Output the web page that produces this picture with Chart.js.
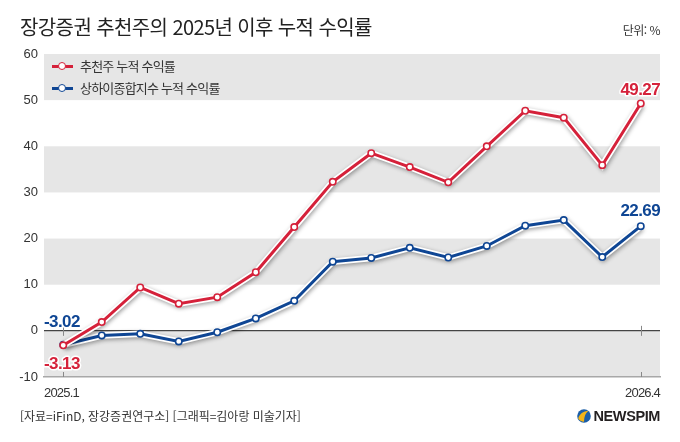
<!DOCTYPE html>
<html lang="ko">
<head>
<meta charset="utf-8">
<script src="https://cdn.jsdelivr.net/npm/chart.js@4.4.1/dist/chart.umd.min.js"></script>
<style>
  html, body { margin: 0; padding: 0; background: #fff; }
  #wrap { position: relative; width: 680px; height: 442px; overflow: hidden; font-family: "Noto Sans CJK KR", "Noto Sans", sans-serif; }
  #chartBox { position: absolute; left: 0; top: 0; width: 680px; height: 442px; }
  .title { position: absolute; left: 20px; top: 17px; font-size: 20px; line-height: 20px; letter-spacing: -0.6px; color: #222; }
  .unit { position: absolute; right: 20px; top: 24px; font-size: 12px; line-height: 12px; letter-spacing: -0.5px; color: #333; }
  .legend { position: absolute; left: 52px; top: 55px; font-size: 13px; letter-spacing: -0.8px; color: #333; }
  .legend div { height: 22px; line-height: 18px; display: flex; align-items: center; }
  .legend .mk { position: relative; width: 21px; height: 3px; margin-right: 7px; }
  .legend .mk i { position: absolute; left: 6px; top: -3px; width: 6px; height: 6px; border-radius: 50%; background: #fff; border: 1.5px solid; box-sizing: content-box; }
  .source { position: absolute; left: 20px; top: 409px; font-size: 12px; line-height: 14px; letter-spacing: -0.02px; color: #333; }
  .logo { position: absolute; right: 20px; top: 408px; display: flex; align-items: center; }
  .logo span { font-family: "Liberation Sans", Arial, sans-serif; font-weight: bold; font-size: 14.5px; letter-spacing: -0.4px; color: #231f20; margin-left: 3px; }
</style>
</head>
<body>
<div id="wrap">
  <div id="chartBox"><canvas id="returns"></canvas></div>
  <div class="title">장강증권 추천주의 2025년 이후 누적 수익률</div>
  <div class="unit">단위: %</div>
  <div class="legend">
    <div><span class="mk" style="background:#d5213a"><i style="border-color:#d5213a"></i></span>추천주 누적 수익률</div>
    <div><span class="mk" style="background:#0f4694"><i style="border-color:#0f4694"></i></span>상하이종합지수 누적 수익률</div>
  </div>
  <div class="source">[자료=iFinD, 장강증권연구소] [그래픽=김아랑 미술기자]</div>
  <div class="logo">
    <svg width="14" height="14" viewBox="0 0 14 14">
      <circle cx="7" cy="7" r="6.8" fill="#1b5ea8"/>
      <path d="M1.2 9.5 C2.5 5 6 2.2 11.5 1.8 C8.5 4 7.2 7.5 7 12.8 C4.5 12.5 2.2 11.3 1.2 9.5 Z" fill="#f2b418"/>
    </svg>
    <span>NEWSPIM</span>
  </div>
</div>
<script>
const months = ["2025.1", "2025.2", "2025.3", "2025.4", "2025.5", "2025.6", "2025.7", "2025.8",
    "2025.9", "2025.10", "2025.11", "2025.12", "2026.1", "2026.2", "2026.3", "2026.4"];
const picksReturn = [-3.13, 1.9, 9.4, 5.9, 7.3, 12.7, 22.5, 32.3, 38.5, 35.5, 32.2, 40.0, 47.7, 46.2, 35.9, 49.27];
const shanghaiReturn = [-3.02, -1.0, -0.65, -2.3, -0.3, 2.7, 6.5, 15.0, 15.8, 18.0, 15.9, 18.4, 22.8, 24.0, 16.0, 22.69];
const axisLabels = ["2025.1", "2026.4"];
const yMin = -10, yMax = 60, yStep = 10;

const RED = "#d5213a";
const BLUE = "#0f4694";

// grey bands behind the plot, every other 10 points
const bandsPlugin = {
    id: "bands",
    beforeDraw(chart) {
        const { ctx, chartArea, scales } = chart;
        const y = scales.y;
        ctx.save();
        ctx.fillStyle = "#e6e6e6";
        for (let v = yMin; v < yMax; v += yStep) {
            if (((v - yMin) / yStep) % 2 === 0) {
                const top = y.getPixelForValue(v + yStep);
                const bottom = y.getPixelForValue(v);
                ctx.fillRect(chartArea.left, top, chartArea.right - chartArea.left, bottom - top);
            }
        }
        ctx.restore();
    },
};

// shadow under the white halo lines, small ticks, labels
const decoPlugin = {
    id: "deco",
    beforeDatasetsDraw(chart) {
        const { ctx, chartArea, scales } = chart;
        const x = scales.x, y = scales.y;
        const zero = y.getPixelForValue(0);
        ctx.save();
        ctx.strokeStyle = "#888";
        ctx.lineWidth = 1;
        [0, months.length - 1].forEach((i) => {
            const px = Math.round(x.getPixelForValue(i)) + 0.5;
            ctx.beginPath();
            ctx.moveTo(px, zero - 5);
            ctx.lineTo(px, zero + 5);
            ctx.moveTo(px, chartArea.bottom - 5);
            ctx.lineTo(px, chartArea.bottom);
            ctx.stroke();
        });
        ctx.restore();
    },
    beforeDatasetDraw(chart, args) {
        if (args.meta._dataset.halo) {
            const ctx = chart.ctx;
            ctx.save();
            ctx.shadowColor = "rgba(0,0,0,0.38)";
            ctx.shadowBlur = 4;
            ctx.shadowOffsetX = 1;
            ctx.shadowOffsetY = 1.5;
        }
    },
    afterDatasetDraw(chart, args) {
        if (args.meta._dataset.halo) chart.ctx.restore();
    },
    afterDatasetsDraw(chart) {
        const { ctx, chartArea } = chart;
        const red = chart.getDatasetMeta(0).data;
        const blue = chart.getDatasetMeta(2).data;
        const last = months.length - 1;
        ctx.save();
        ctx.font = "bold 17px 'Liberation Sans', Arial, sans-serif";
        ctx.letterSpacing = "-0.6px";
        ctx.lineJoin = "round";
        const put = (txt, color, px, py, align, base) => {
            ctx.textAlign = align;
            ctx.textBaseline = base;
            ctx.strokeStyle = "#fff";
            ctx.lineWidth = 3;
            ctx.strokeText(txt, px, py);
            ctx.fillStyle = color;
            ctx.fillText(txt, px, py);
        };
        put(picksReturn[last].toFixed(2), RED, chartArea.right, red[last].y - 9, "right", "alphabetic");
        put(shanghaiReturn[last].toFixed(2), BLUE, chartArea.right, blue[last].y - 10, "right", "alphabetic");
        put(shanghaiReturn[0].toFixed(2), BLUE, chartArea.left, blue[0].y - 18, "left", "alphabetic");
        put(picksReturn[0].toFixed(2), RED, chartArea.left, red[0].y + 24, "left", "alphabetic");

        // first / last month labels under the axis
        ctx.font = "13px 'Liberation Sans', Arial, sans-serif";
        ctx.letterSpacing = "-0.8px";
        ctx.fillStyle = "#333";
        ctx.textBaseline = "alphabetic";
        ctx.textAlign = "left";
        ctx.fillText(axisLabels[0], chartArea.left, chartArea.bottom + 20);
        ctx.textAlign = "right";
        ctx.fillText(axisLabels[1], chartArea.right, chartArea.bottom + 20);
        ctx.restore();
    },
};

const lineStyle = (color) => ({
    borderColor: color,
    borderWidth: 3,
    pointRadius: 3.2,
    pointHoverRadius: 3.2,
    pointBackgroundColor: "#fff",
    pointBorderColor: color,
    pointBorderWidth: 1.6,
    tension: 0,
    fill: false,
});
const haloStyle = {
    halo: true,
    borderColor: "#fff",
    borderWidth: 6.5,
    pointRadius: 0,
    tension: 0,
    fill: false,
};

new Chart(document.getElementById("returns"), {
    type: "line",
    data: {
        labels: months,
        datasets: [
            { label: "추천주 누적 수익률", data: picksReturn, order: 1, ...lineStyle(RED) },
            { label: "halo1", data: picksReturn, order: 2, ...haloStyle },
            { label: "상하이종합지수 누적 수익률", data: shanghaiReturn, order: 3, ...lineStyle(BLUE) },
            { label: "halo2", data: shanghaiReturn, order: 4, ...haloStyle },
        ],
    },
    options: {
        responsive: true,
        maintainAspectRatio: false,
        animation: false,
        layout: { padding: { top: 54, right: 20, bottom: 65, left: 0 } },
        plugins: {
            legend: { display: false },
            tooltip: { enabled: false },
        },
        scales: {
            x: {
                type: "category",
                offset: true,
                grid: { display: false, drawTicks: false },
                border: { display: true, color: "#a8a8a8", width: 1.5 },
                ticks: { display: false },
                afterFit(scale) { scale.height = 0; },
            },
            y: {
                min: yMin,
                max: yMax,
                border: { display: false },
                grid: {
                    drawTicks: false,
                    color: (c) => (c.tick && c.tick.value === 0 ? "#444" : "rgba(0,0,0,0)"),
                    lineWidth: 1.3,
                },
                ticks: {
                    stepSize: yStep,
                    padding: 6,
                    color: "#333",
                    font: { family: "'Liberation Sans', Arial, sans-serif", size: 13 },
                },
                afterFit(scale) { scale.width = 44; },
            },
        },
    },
    plugins: [bandsPlugin, decoPlugin],
});
</script>
</body>
</html>
